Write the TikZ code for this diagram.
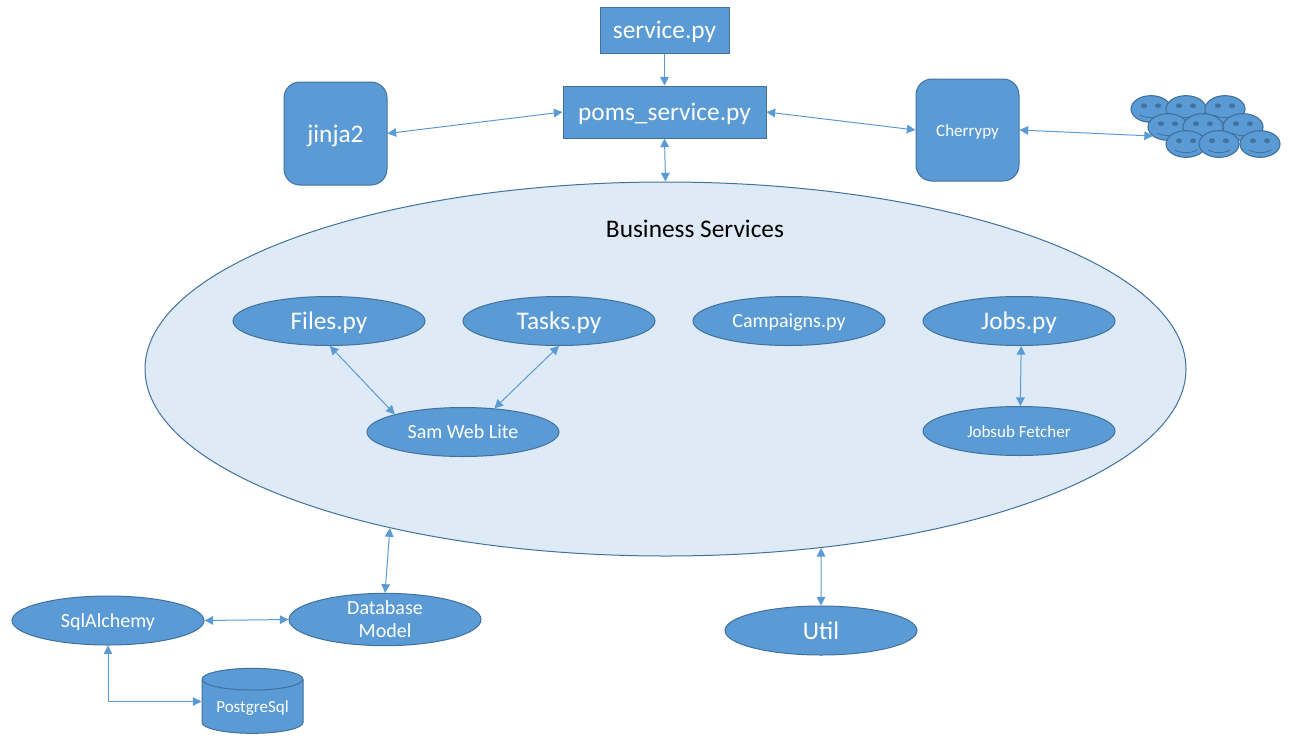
\documentclass[tikz,border=0pt]{standalone}
\usepackage{fontspec}
\setmainfont{Carlito}
\usetikzlibrary{arrows.meta,shapes.geometric}
\definecolor{boxfill}{HTML}{5B9BD5}
\definecolor{boxline}{HTML}{41719C}
\definecolor{bigfill}{HTML}{DEEAF6}
\definecolor{topfill}{HTML}{9DC3E6}
\tikzset{
	boxnode/.style={draw=boxline,fill=boxfill,text=white,line width=0.75pt,inner sep=0pt,align=center},
	filenode/.style={boxnode,ellipse,minimum width=144pt,minimum height=36.75pt},
	link/.style={draw=boxfill,line width=0.75pt,{Triangle[length=6.5pt,width=6.5pt]}-{Triangle[length=6.5pt,width=6.5pt]}},
	linkto/.style={draw=boxfill,line width=0.75pt,-{Triangle[length=6.5pt,width=6.5pt]}},
	bigfont/.style={font=\fontsize{19}{22}\selectfont,text height=15pt,text depth=2pt},
	midfont/.style={font=\fontsize{15}{17.25}\selectfont,text height=12pt,text depth=2pt},
	smallfont/.style={font=\fontsize{12.75}{15}\selectfont,text height=11pt,text depth=2pt},
	smiley/.pic={
		\draw[fill=boxfill,draw=boxline,line width=0.85pt] (0,0) ellipse (15pt and 10pt);
		\fill[boxline] (-7,-3.3) ellipse (2.3pt and 1.8pt) (7,-3.3) ellipse (2.3pt and 1.8pt);
		\draw[boxline,line width=0.6pt] (-11,6) .. controls (-5,9.5) and (5,9.5) .. (11,6);
	}
}
\begin{document}
\begin{tikzpicture}[x=0.75pt,y=-0.75pt]
	\useasboundingbox (0,0) rectangle (1299,743);
	% top row
	\node[boxnode,bigfont,minimum width=96.75pt,minimum height=34.5pt] (service) at (664.5,30) {service.py};
	\node[boxnode,bigfont,minimum width=152.25pt,minimum height=39pt] (poms) at (664.5,112) {poms\_service.py};
	\node[boxnode,bigfont,rounded corners=12pt,minimum width=77.25pt,minimum height=77.25pt] (jinja) at (335.5,133.5) {jinja2};
	\node[boxnode,smallfont,rounded corners=12pt,minimum width=77.25pt,minimum height=76.5pt] (cherrypy) at (967.5,130) {Cherrypy};
	\coordinate (users) at (1153,136);
	\foreach \x/\y in {1151/109,1186/109,1225/109,1168/127,1203/127,1243/127,1186/144,1219/144,1260/144} {
			\pic at (\x,\y) {smiley};
		}
	% business services
	\node[draw=boxline,fill=bigfill,line width=0.75pt,ellipse,inner sep=0pt,minimum width=780.75pt,minimum height=280.5pt] (business) at (665.5,369) {};
	\node[bigfont,text=black] (title) at (695,229) {Business Services};
	\node[filenode,bigfont] (files) at (329,321) {Files.py};
	\node[filenode,bigfont] (tasks) at (559,321) {Tasks.py};
	\node[filenode,midfont] (campaigns) at (789,321) {Campaigns.py};
	\node[filenode,bigfont] (jobs) at (1019,321) {Jobs.py};
	\node[filenode,midfont] (samweb) at (463,432) {Sam Web Lite};
	\node[filenode,smallfont] (jobsub) at (1019,431) {Jobsub Fetcher};
	% bottom row
	\node[filenode,midfont] (sqlalchemy) at (108,620.5) {SqlAlchemy};
	\node[filenode,font=\fontsize{15}{17.25}\selectfont] (database) at (385,619.5) {Database\\Model};
	\node[filenode,bigfont] (util) at (821,630.5) {Util};
	\node[boxnode,smallfont,shape=cylinder,cylinder uses custom fill,cylinder body fill=boxfill,cylinder end fill=topfill,shape border rotate=90,aspect=0.3,minimum width=75.75pt,minimum height=48.75pt] (postgres) at (252.5,706.5) {PostgreSql};
	% connectors
	\draw[linkto] (service) -- (poms);
	\draw[link] (jinja.east) -- (poms.west);
	\draw[link] (poms.east) -- (cherrypy.west);
	\draw[link] (cherrypy.east) -- (users);
	\draw[link] (poms.south) -- (business.north);
	\draw[link] (files.272) -- (samweb.north west);
	\draw[link] (tasks.south) -- (samweb.37);
	\draw[link] (jobs.275) -- (jobsub.87);
	\draw[link] (database.north) -- (business.210);
	\draw[link] (util.north) -- (business.311);
	\draw[link] (sqlalchemy.east) -- (database.west);
	\draw[link] (sqlalchemy.south) |- ([yshift=3.75pt]postgres.west);
\end{tikzpicture}
\end{document}
